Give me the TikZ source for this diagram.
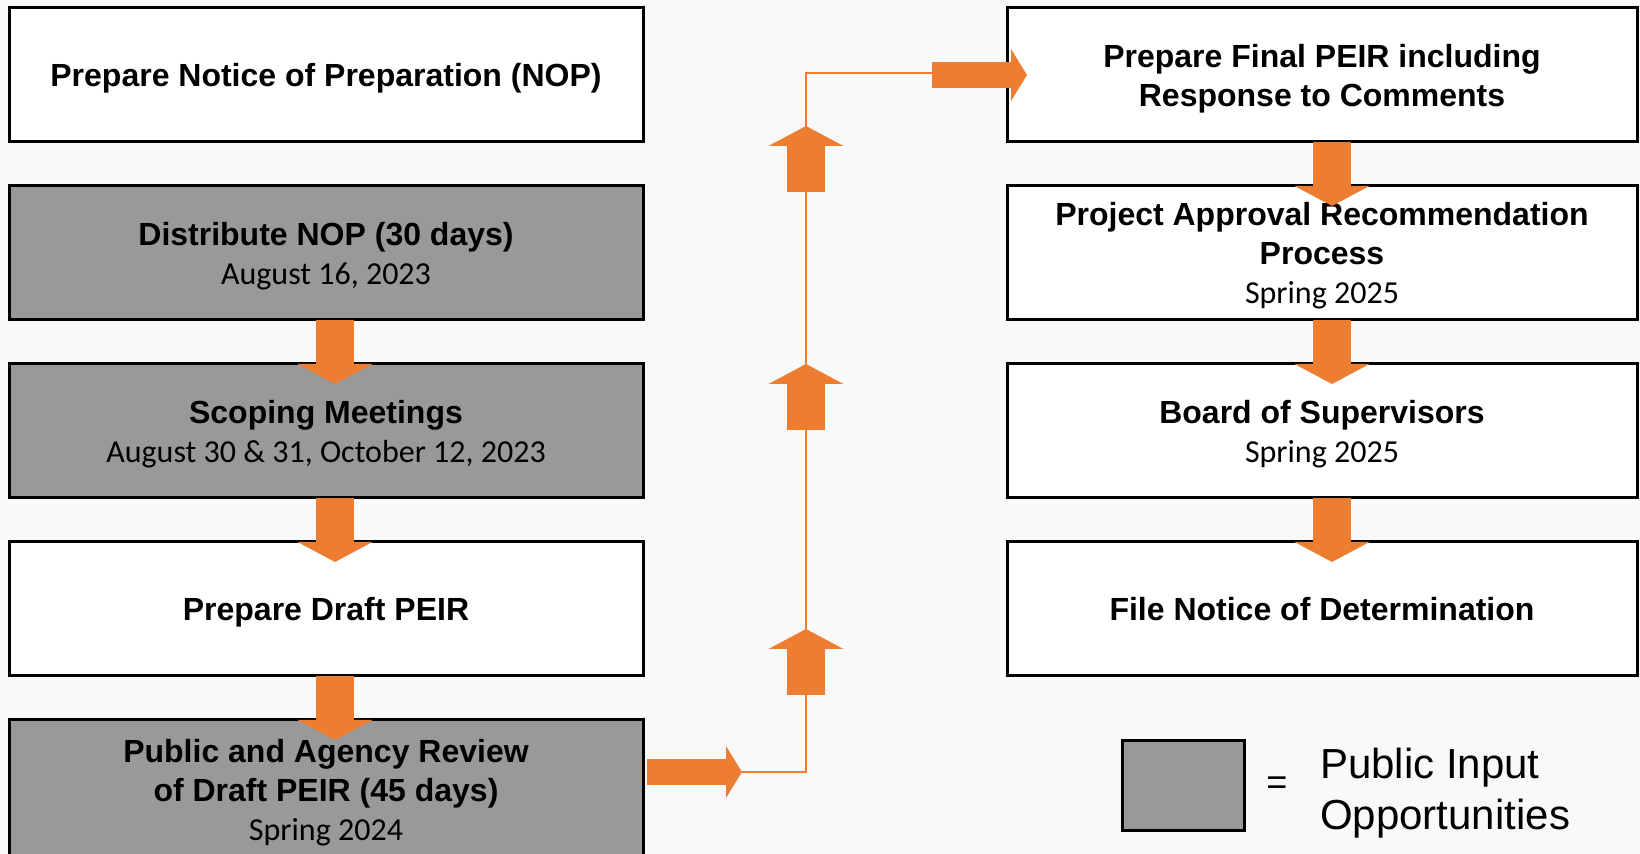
\documentclass[tikz,border=0pt]{standalone}
\usepackage{fontspec}
\setmainfont{Liberation Sans}
\newfontfamily\datefont{Carlito}
\usepackage{tikz}
\usetikzlibrary{arrows.meta}
\usetikzlibrary{positioning}
\definecolor{myorange}{HTML}{ED7D31}
\definecolor{mygray}{HTML}{999999}
\definecolor{mybg}{HTML}{F9F9F9}
\newcommand{\when}[1]{{\datefont\mdseries\fontsize{16}{19.5}\selectfont #1}}
\tikzset{node distance=22pt, every node/.style={align=center}}
\tikzstyle{block} = [draw=black, fill=white, line width=1.5pt, minimum width=317pt, minimum height=67pt, inner sep=0pt, outer sep=0pt, text depth=0pt, font={\fontsize{16}{19.5}\selectfont\bfseries}]
\tikzstyle{public} = [block, fill=mygray]
\tikzstyle{rblock} = [block, minimum width=315pt]
\tikzstyle{rise} = [myorange, line width=19pt, -{Triangle[width=37.5pt, length=10pt, line width=0pt]}]
\tikzstyle{down} = [rise, shorten >=-10pt]
\tikzstyle{side} = [myorange, line width=13pt, -{Triangle[width=26pt, length=8pt, line width=0pt]}]
\tikzstyle{ln} = [myorange, line width=1pt]
\begin{document}
\begin{tikzpicture}[x=0.5pt, y=-0.5pt]
  \useasboundingbox (0,0) rectangle (1640,854);
  \fill[mybg] (0,0) rectangle (1640,854);
  % left column
  \node[block] (nop) at (326,75) {Prepare Notice of Preparation (NOP)};
  \node[public, below=of nop] (distribute) {Distribute NOP (30 days)\\\when{August 16, 2023}};
  \node[public, below=of distribute] (scoping) {Scoping Meetings\\\when{August 30 \& 31, October 12, 2023}};
  \node[block, below=of scoping] (draft) {Prepare Draft PEIR};
  \node[public, below=of draft, minimum height=70pt] (review) {Public and Agency Review\\of Draft PEIR (45 days)\\\when{Spring 2024}};
  % right column
  \node[rblock, right=182pt of nop] (final) {Prepare Final PEIR including\\Response to Comments};
  \node[rblock, below=of final] (approval) {Project Approval Recommendation\\Process\\\when{Spring 2025}};
  \node[rblock, below=of approval] (board) {Board of Supervisors\\\when{Spring 2025}};
  \node[rblock, below=of board] (nod) {File Notice of Determination};
  % legend
  \node[public, minimum width=61pt, minimum height=45pt] (key) at (1183,786) {};
  \node[right=11pt of key, inner sep=0pt, font={\fontsize{18}{25.5}\selectfont}] (equals) {=};
  \node[right=16pt of equals, yshift=-3.5pt, inner sep=0pt, align=left, font={\fontsize{21}{25.5}\selectfont}] (keytext) {Public Input\\Opportunities};
  % connectors
  \coordinate (revtip) at (742,772);
  \coordinate (jointlow) at (806,772);
  \coordinate (jointhigh) at (806,73);
  \coordinate (finstart) at (932,75);
  \draw[down] ([xshift=4.5pt]distribute.south) -- ([xshift=4.5pt]scoping.north);
  \draw[down] ([xshift=4.5pt]scoping.south) -- ([xshift=4.5pt]draft.north);
  \draw[down] ([xshift=4.5pt]draft.south) -- ([xshift=4.5pt]review.north);
  \draw[down] ([xshift=5pt]final.south) -- ([xshift=5pt]approval.north);
  \draw[down] ([xshift=5pt]approval.south) -- ([xshift=5pt]board.north);
  \draw[down] ([xshift=5pt]board.south) -- ([xshift=5pt]nod.north);
  \draw[side] ([shift={(2pt,9pt)}]review.east) -- (revtip);
  \draw[ln] (revtip) -- (jointlow) -- (jointhigh) -- (finstart |- jointhigh);
  \foreach \y in {695,430,192}
    \draw[rise] (806,\y) -- ++(0,-66);
  \draw[side, shorten >=-10pt] (finstart) -- (final.west);
\end{tikzpicture}
\end{document}
